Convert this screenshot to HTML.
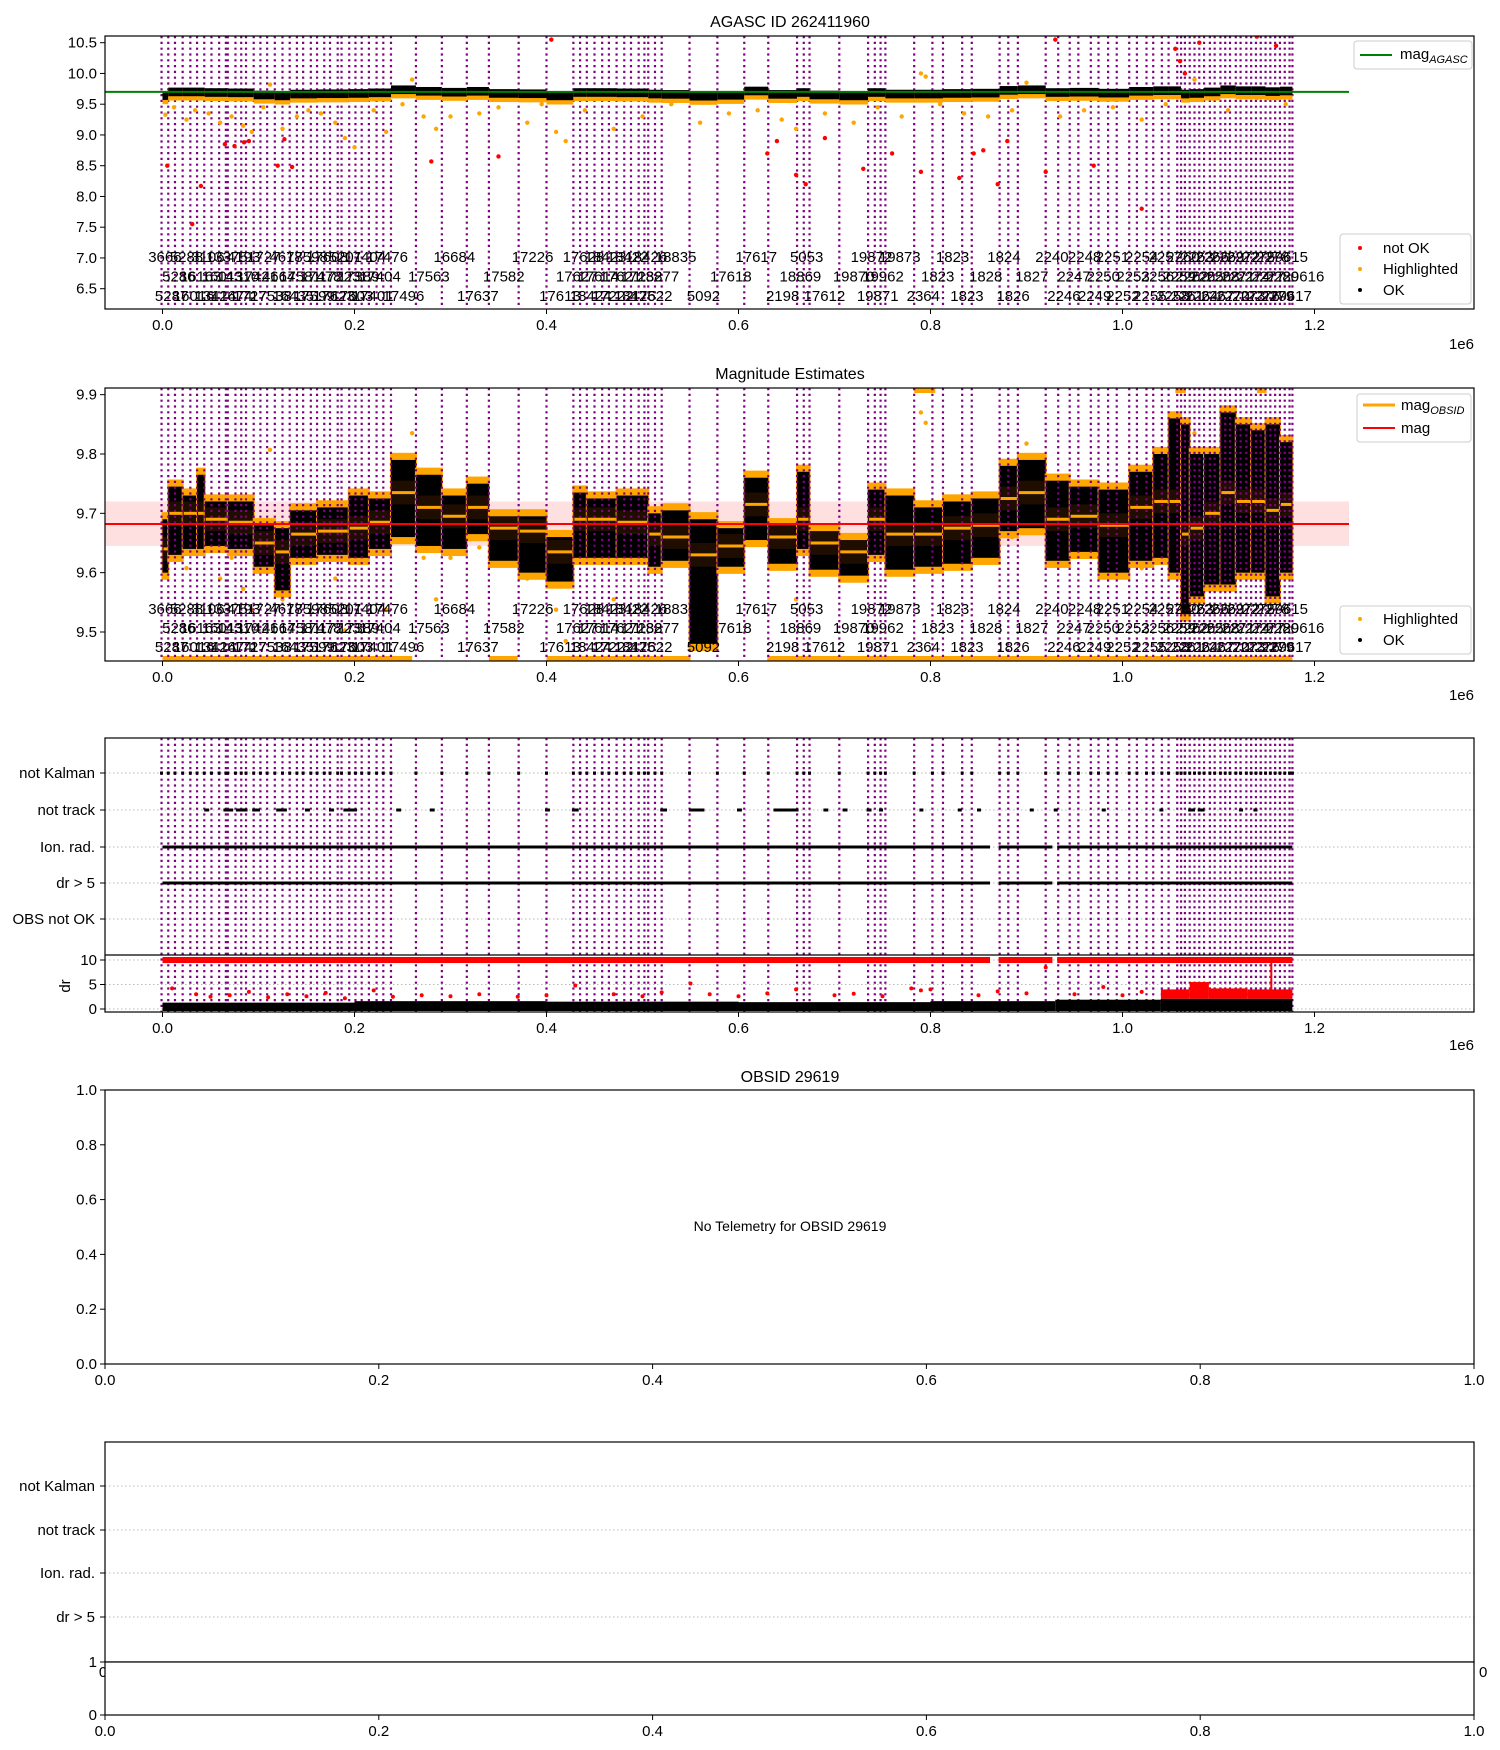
<!DOCTYPE html>
<html><head><meta charset="utf-8">
<style>
html,body{margin:0;padding:0;background:#fff;}
svg{display:block;font-family:"Liberation Sans","DejaVu Sans",sans-serif;}
</style></head>
<body>
<svg id="fig" width="1500" height="1750" viewBox="0 0 1500 1750" xmlns="http://www.w3.org/2000/svg">
<rect width="1500" height="1750" fill="#fff"/>
<g id="p1"></g>
<g id="p2"></g>
<g id="p3"></g>
<g id="p4"></g>
<g id="p5"></g>
</svg>
<script>
// ---- data (x in units of 1e6) ----
const obsBounds = [-0.001,0.006,0.013,0.021,0.029,0.036,0.0435,0.051,0.059,0.066,0.068,0.076,0.082,0.087,0.095,0.102,0.109,0.117,0.125,0.1325,0.140,0.1465,0.1545,0.161,0.1685,0.1745,0.1825,0.1865,0.1945,0.201,0.2075,0.215,0.223,0.230,0.238,0.264,0.291,0.317,0.340,0.371,0.400,0.428,0.435,0.442,0.450,0.458,0.465,0.473,0.481,0.488,0.496,0.502,0.506,0.513,0.520,0.549,0.578,0.606,0.631,0.661,0.668,0.674,0.705,0.735,0.742,0.748,0.753,0.783,0.802,0.813,0.833,0.843,0.872,0.881,0.891,0.920,0.933,0.945,0.954,0.967,0.975,0.985,0.994,1.007,1.015,1.025,1.032,1.041,1.048,1.057,1.061,1.065,1.070,1.075,1.080,1.085,1.091,1.096,1.102,1.107,1.112,1.118,1.123,1.129,1.134,1.139,1.144,1.149,1.154,1.159,1.164,1.169,1.174,1.177];
const obsLabels = ["3666","5287","5286","5288","16016","16163","3106","13414","16013","13375","12674","14310","4193","1727","17421","1727","17538","4664","4678","16435","17581","17598","17599","17478","17608","17623","17223","5201","17603","17389","17404","17401","17404","17476","17496","17563","16684","17637","17582","17226","17613","17627","17628","18424","17614","18423","17222","17621","18422","18425","17232","18426","17622","18877","18835","5092","17618","17617","2198","18869","5053","17612","19870","19872","19871","19962","19873","2364","1823","1823","1823","1828","1824","1826","1827","2240","2246","2247","2248","2249","2250","2251","2252","2253","2254","2255","2256","2257","2258","2259","2260","2261","2262","2263","2264","2265","2266","2267","2268","2269","2270","2271","2272","2273","2274","2275","2276","2277","2278","2279","2280","29615","29617","29616"];
const segStart = [0,0.006,0.021,0.036,0.044,0.068,0.095,0.117,0.133,0.161,0.194,0.215,0.238,0.264,0.291,0.317,0.340,0.371,0.400,0.428,0.442,0.473,0.506,0.520,0.549,0.578,0.606,0.631,0.661,0.674,0.705,0.735,0.753,0.783,0.813,0.843,0.872,0.891,0.920,0.945,0.975,1.007,1.032,1.048,1.061,1.070,1.085,1.102,1.118,1.134,1.149,1.164];
const segEnd = [0.006,0.021,0.036,0.044,0.068,0.095,0.117,0.133,0.161,0.194,0.215,0.238,0.264,0.291,0.317,0.340,0.371,0.400,0.428,0.442,0.473,0.506,0.520,0.549,0.578,0.606,0.631,0.661,0.674,0.705,0.735,0.753,0.783,0.813,0.843,0.872,0.891,0.920,0.945,0.975,1.007,1.032,1.048,1.061,1.070,1.085,1.102,1.118,1.134,1.149,1.164,1.177];
const segLo = [9.60,9.63,9.64,9.64,9.645,9.64,9.61,9.57,9.625,9.63,9.625,9.64,9.66,9.645,9.64,9.665,9.62,9.60,9.585,9.625,9.625,9.625,9.61,9.62,9.48,9.61,9.655,9.615,9.64,9.605,9.595,9.63,9.605,9.61,9.615,9.625,9.67,9.675,9.62,9.635,9.60,9.62,9.625,9.60,9.53,9.56,9.58,9.58,9.60,9.60,9.56,9.60];
const segHi = [9.69,9.745,9.73,9.765,9.72,9.72,9.68,9.675,9.705,9.71,9.73,9.725,9.79,9.765,9.73,9.75,9.695,9.695,9.66,9.735,9.725,9.73,9.70,9.705,9.69,9.675,9.76,9.68,9.77,9.67,9.655,9.74,9.73,9.71,9.72,9.725,9.78,9.79,9.755,9.745,9.74,9.77,9.80,9.86,9.85,9.80,9.80,9.87,9.85,9.84,9.85,9.82];
const segMed = [9.64,9.70,9.70,9.70,9.69,9.685,9.65,9.635,9.665,9.67,9.675,9.685,9.735,9.71,9.695,9.71,9.675,9.67,9.635,9.69,9.69,9.685,9.665,9.66,9.63,9.645,9.715,9.66,9.69,9.65,9.635,9.69,9.665,9.665,9.675,9.68,9.725,9.735,9.69,9.695,9.68,9.71,9.72,9.72,9.665,9.675,9.70,9.735,9.72,9.72,9.705,9.715];
const outX = [0.003,0.012,0.025,0.034,0.048,0.06,0.072,0.084,0.093,0.105,0.112,0.125,0.14,0.152,0.165,0.18,0.19,0.2,0.22,0.233,0.25,0.26,0.272,0.285,0.3,0.33,0.35,0.38,0.395,0.41,0.42,0.44,0.47,0.5,0.53,0.56,0.59,0.62,0.645,0.66,0.69,0.72,0.745,0.77,0.79,0.795,0.81,0.835,0.86,0.885,0.9,0.935,0.96,0.99,1.02,1.045,1.075,1.11,1.14,1.17];
const outY = [9.33,9.45,9.25,9.4,9.35,9.2,9.3,9.15,9.05,9.45,9.82,9.1,9.3,9.4,9.35,9.2,8.95,8.8,9.4,9.05,9.5,9.9,9.3,9.1,9.3,9.35,9.45,9.2,9.5,9.05,8.9,9.4,9.1,9.3,9.5,9.2,9.35,9.4,9.25,9.1,9.35,9.2,9.45,9.3,10.0,9.95,9.5,9.35,9.3,9.4,9.85,9.3,9.4,9.45,9.25,9.5,9.9,9.4,9.6,9.5];
const badX = [0.005,0.031,0.04,0.065,0.075,0.085,0.09,0.12,0.127,0.135,0.28,0.35,0.405,0.63,0.64,0.66,0.67,0.69,0.73,0.76,0.79,0.83,0.845,0.855,0.87,0.88,0.92,0.93,0.97,1.02,1.055,1.06,1.065,1.08,1.14,1.16];
const badY = [8.5,7.55,8.17,8.85,8.82,8.88,8.9,8.5,8.93,8.48,8.57,8.65,10.55,8.7,8.9,8.35,8.2,8.95,8.45,8.7,8.4,8.3,8.7,8.75,8.2,8.9,8.4,10.55,8.5,7.8,10.4,10.2,10.0,10.5,10.6,10.45];
const clipLowStart = [0.0,0.34,0.40,0.63];
const clipLowEnd = [0.26,0.37,0.55,1.177];
const clipHighStart = [0.783,1.055,1.14];
const clipHighEnd = [0.805,1.066,1.15];
const noTrackStart = [0.045,0.065,0.078,0.095,0.12,0.15,0.175,0.19,0.245,0.28,0.4,0.428,0.52,0.55,0.6,0.638,0.66,0.69,0.71,0.735,0.748,0.79,0.83,0.85,0.905,0.93,0.98,1.04,1.07,1.08,1.123,1.138];
const noTrackEnd = [0.047,0.072,0.087,0.1,0.128,0.152,0.177,0.201,0.247,0.282,0.402,0.432,0.524,0.563,0.602,0.66,0.661,0.692,0.712,0.737,0.749,0.791,0.831,0.851,0.906,0.931,0.981,1.041,1.074,1.084,1.124,1.139];
const flagRunStart = [0.0,0.871,0.932];
const flagRunEnd = [0.862,0.927,1.177];
const drTopStart = [0.0,0.2,0.4,0.6,0.8,0.93,1.04];
const drTopEnd = [0.2,0.4,0.6,0.8,0.93,1.04,1.177];
const drTopVal = [1.3,1.6,1.5,1.4,1.6,1.9,2.1];
const drRedX = [0.01,0.035,0.05,0.07,0.09,0.11,0.13,0.15,0.17,0.19,0.22,0.24,0.27,0.3,0.33,0.37,0.4,0.43,0.47,0.5,0.52,0.55,0.57,0.6,0.63,0.66,0.7,0.72,0.75,0.78,0.79,0.8,0.85,0.87,0.9,0.92,0.95,0.98,1.0,1.02];
const drRedY = [4.2,3.0,2.5,2.8,3.5,2.4,3.0,2.6,3.3,2.2,3.8,2.5,2.8,2.6,3.0,2.5,2.8,4.8,3.0,2.6,3.4,5.2,3.0,2.6,3.2,4.0,2.8,3.1,2.6,4.2,3.8,4.0,2.8,3.6,3.2,8.5,3.0,4.5,2.8,3.5];
const drDenseStart = [1.04,1.07,1.09,1.13];
const drDenseEnd = [1.07,1.09,1.13,1.177];
const drDenseVal = [4.0,5.5,4.2,4.0];

// ---- scales ----
const X0 = 162.5, XS = 960, AXL = 105, AXR = 1474;
const xv = v => X0 + v*XS;
const y1 = m => 42.7 + (10.5-m)*61.5;
const y2 = m => 454 + (9.8-m)*593.3;
const yd = d => 1009 - d*4.9;
const NS = "http://www.w3.org/2000/svg";
function mk(parent, tag, attrs, text){
  const el = document.createElementNS(NS, tag);
  for (const k in attrs) el.setAttribute(k, attrs[k]);
  if (text !== undefined) el.textContent = text;
  parent.appendChild(el);
  return el;
}
function clip(id, x, y, w, h){
  let defs = document.getElementById('defs');
  if(!defs){ defs = mk(document.getElementById('fig'),'defs',{id:'defs'}); }
  const c = mk(defs,'clipPath',{id:id});
  mk(c,'rect',{x:x,y:y,width:w,height:h});
}
function vlines(g, top, bot){
  obsBounds.forEach(b=>{
    const l = mk(g,'line',{x1:xv(b),x2:xv(b),y1:top,y2:bot,stroke:'#800080','stroke-width':2.2,'stroke-dasharray':'2.2,3.6'});
    
    
  });
}
function xTicks(g, yb, labels, fn, pre){
  labels.forEach(v=>{
    mk(g,'line',{x1:fn(v),x2:fn(v),y1:yb,y2:yb+5,stroke:'#000','stroke-width':1});
    const t = mk(g,'text',{x:fn(v),y:yb+21,'font-size':15,'text-anchor':'middle'},v.toFixed(1));
    
    
  });
}
function yTicks(g, vals, fn, fmt, pre){
  vals.forEach(v=>{
    mk(g,'line',{x1:AXL-5,x2:AXL,y1:fn(v),y2:fn(v),stroke:'#000','stroke-width':1});
    const t = mk(g,'text',{x:AXL-8,y:fn(v)+5,'font-size':15,'text-anchor':'end'},fmt(v));
    
    
  });
}
function obsText(g, rowsY){
  const order=[0,2,1];
  for(let i=0;i<obsBounds.length;i++){
    const a = obsBounds[i], b = i+1<obsBounds.length ? obsBounds[i+1] : 1.2;
    const mid = (a+b)/2;
    const t = mk(g,'text',{x:xv(mid),y:rowsY[order[i%3]]+5,'font-size':15,'text-anchor':'middle'},obsLabels[i%obsLabels.length]);
    
    
  }
}
const tickVals = [0,0.2,0.4,0.6,0.8,1.0,1.2];

// ================= Panel 1 =================
(function(){
  const g = document.getElementById('p1');
  const T=36, B=309;
  clip('c1',AXL,T,AXR-AXL,B-T);
  const cg = mk(g,'g',{'clip-path':'url(#c1)'});
  vlines(cg,T,B);
  outX.forEach((x,i)=>{ const c=mk(cg,'circle',{cx:xv(x),cy:y1(outY[i]),r:2.2,fill:'orange'});
      });
  segStart.forEach((s,i)=>{
    const w = xv(segEnd[i])-xv(s);
    mk(cg,'rect',{x:xv(s),y:y1(segMed[i]+0.06),width:w,height:y1(segMed[i]-0.14)-y1(segMed[i]+0.06),fill:'orange'});
    const r = mk(cg,'rect',{x:xv(s),y:y1(segMed[i]+0.07),width:w,height:y1(segMed[i]-0.07)-y1(segMed[i]+0.07),fill:'#000'});
     
  });
  badX.forEach((x,i)=>{ const c=mk(cg,'circle',{cx:xv(x),cy:y1(badY[i]),r:2.2,fill:'red'});
      });
  const gl = mk(cg,'line',{x1:AXL,x2:xv(1.236),y1:y1(9.70),y2:y1(9.70),stroke:'green','stroke-width':2});
   
  obsText(g,[257,276.5,296]);
  mk(g,'rect',{x:AXL,y:T,width:AXR-AXL,height:B-T,fill:'none',stroke:'#000','stroke-width':1.2});
  xTicks(g,B,tickVals,xv,'p1');
  yTicks(g,[6.5,7,7.5,8,8.5,9,9.5,10,10.5],y1,v=>v.toFixed(1),'p1');
  const t=mk(g,'text',{x:790,y:27,'font-size':16,'text-anchor':'middle'},'AGASC ID 262411960');
   
  mk(g,'text',{x:1474,y:349,'font-size':15,'text-anchor':'end'},'1e6');
  const lg = mk(g,'g',{});
   
  mk(lg,'rect',{x:1354,y:41,width:118,height:28,rx:3,fill:'#fff',stroke:'#ccc'});
  mk(lg,'line',{x1:1360,x2:1392,y1:55,y2:55,stroke:'green','stroke-width':2});
  const tx = mk(lg,'text',{x:1400,y:59,'font-size':15},'mag');
  mk(tx,'tspan',{'font-size':11,'font-style':'italic',dy:4},'AGASC');
  const lb = mk(g,'g',{});
   
  mk(lb,'rect',{x:1340,y:234,width:131,height:70,rx:3,fill:'#fff',stroke:'#ccc'});
  [['not OK','red',248],['Highlighted','orange',269],['OK','#000',290]].forEach(e=>{
    mk(lb,'circle',{cx:1360,cy:e[2],r:2,fill:e[1]});
    mk(lb,'text',{x:1383,y:e[2]+5,'font-size':15},e[0]);
  });
})();

// ================= Panel 2 =================
(function(){
  const g = document.getElementById('p2');
  const T=388, B=661;
  clip('c2',AXL,T,AXR-AXL,B-T);
  const cg = mk(g,'g',{'clip-path':'url(#c2)'});
  const band = mk(cg,'rect',{x:AXL,y:y2(9.72),width:xv(1.236)-AXL,height:y2(9.645)-y2(9.72),fill:'rgba(255,0,0,0.12)'});
   
  outX.forEach((x,i)=>{ const c=mk(cg,'circle',{cx:xv(x),cy:y2(9.45+ (outY[i]-8.8)*0.35),r:2.2,fill:'orange'});
      });
  clipLowStart.forEach((s,i)=>{ mk(cg,'rect',{x:xv(s),y:B-5,width:xv(clipLowEnd[i])-xv(s),height:5,fill:'orange'}); });
  clipHighStart.forEach((s,i)=>{ mk(cg,'rect',{x:xv(s),y:T,width:xv(clipHighEnd[i])-xv(s),height:5,fill:'orange'}); });
  segStart.forEach((s,i)=>{
    const w = xv(segEnd[i])-xv(s);
    mk(cg,'rect',{x:xv(s)-1,y:y2(segHi[i]+0.012),width:w+2,height:y2(segLo[i]-0.012)-y2(segHi[i]+0.012),fill:'orange'});
    const r = mk(cg,'rect',{x:xv(s),y:y2(segHi[i]),width:w,height:y2(segLo[i])-y2(segHi[i]),fill:'#000'});
     
    mk(cg,'rect',{x:xv(s),y:y2(segMed[i]+0.02),width:w,height:y2(segMed[i]-0.02)-y2(segMed[i]+0.02),fill:'rgba(90,40,0,0.35)'});
  });
  vlines(cg,T,B);
  segStart.forEach((s,i)=>{
    const l = mk(cg,'line',{x1:xv(s)+1,x2:xv(segEnd[i])-1,y1:y2(segMed[i]),y2:y2(segMed[i]),stroke:'orange','stroke-width':3});
     
  });
  const rl = mk(cg,'line',{x1:AXL,x2:xv(1.236),y1:y2(9.682),y2:y2(9.682),stroke:'red','stroke-width':2});
   
  obsText(g,[609,628,647]);
  mk(g,'rect',{x:AXL,y:T,width:AXR-AXL,height:B-T,fill:'none',stroke:'#000','stroke-width':1.2});
  xTicks(g,B,tickVals,xv,'p2');
  yTicks(g,[9.5,9.6,9.7,9.8,9.9],y2,v=>v.toFixed(1),'p2');
  const t=mk(g,'text',{x:790,y:379,'font-size':16,'text-anchor':'middle'},'Magnitude Estimates');
   
  mk(g,'text',{x:1474,y:700,'font-size':15,'text-anchor':'end'},'1e6');
  const lg = mk(g,'g',{});
   
  mk(lg,'rect',{x:1357,y:394,width:114,height:48,rx:3,fill:'#fff',stroke:'#ccc'});
  mk(lg,'line',{x1:1363,x2:1395,y1:405,y2:405,stroke:'orange','stroke-width':3});
  const tx = mk(lg,'text',{x:1401,y:410,'font-size':15},'mag');
  mk(tx,'tspan',{'font-size':11,'font-style':'italic',dy:4},'OBSID');
  mk(lg,'line',{x1:1363,x2:1395,y1:428,y2:428,stroke:'red','stroke-width':2});
  mk(lg,'text',{x:1401,y:433,'font-size':15},'mag');
  const lb = mk(g,'g',{});
   
  mk(lb,'rect',{x:1340,y:606,width:131,height:48,rx:3,fill:'#fff',stroke:'#ccc'});
  mk(lb,'circle',{cx:1360,cy:619,r:2,fill:'orange'});
  mk(lb,'text',{x:1383,y:624,'font-size':15},'Highlighted');
  mk(lb,'circle',{cx:1360,cy:640,r:2,fill:'#000'});
  mk(lb,'text',{x:1383,y:645,'font-size':15},'OK');
})();

// ================= Panel 3 =================
const flagNames = ['not Kalman','not track','Ion. rad.','dr > 5','OBS not OK'];
const flagRowsY = [773,810,847,883,919];
(function(){
  const g = document.getElementById('p3');
  const T=738, S=955, B=1012;
  clip('c3',AXL,T,AXR-AXL,B-T);
  const cg = mk(g,'g',{'clip-path':'url(#c3)'});
  flagRowsY.forEach(y=>mk(cg,'line',{x1:AXL,x2:AXR,y1:y,y2:y,stroke:'#bbb','stroke-width':1,'stroke-dasharray':'1.5,2.5'}));
  [0,5,10].forEach(d=>mk(cg,'line',{x1:AXL,x2:AXR,y1:yd(d),y2:yd(d),stroke:'#bbb','stroke-width':1,'stroke-dasharray':'1.5,2.5'}));
  vlines(cg,T,B);
  obsBounds.forEach(b=>{ const r=mk(cg,'rect',{x:xv(b)-1.5,y:flagRowsY[0]-1.5,width:3,height:3,fill:'#000'});
      });
  noTrackStart.forEach((s,i)=>{ const r=mk(cg,'rect',{x:xv(s)-1.5,y:flagRowsY[1]-1.5,width:xv(noTrackEnd[i])-xv(s)+3,height:3,fill:'#000'});
      });
  flagRunStart.forEach((s,i)=>{
    [2,3].forEach(k=>{ const r=mk(cg,'rect',{x:xv(s),y:flagRowsY[k]-1.5,width:xv(flagRunEnd[i])-xv(s),height:3,fill:'#000'});
        });
    const rr = mk(cg,'rect',{x:xv(s),y:yd(10)-3,width:xv(flagRunEnd[i])-xv(s),height:6,fill:'red'});
     
  });
  drTopStart.forEach((s,i)=>{ const r=mk(cg,'rect',{x:xv(s),y:yd(drTopVal[i]),width:xv(drTopEnd[i])-xv(s),height:yd(0)-yd(drTopVal[i])+2,fill:'#000'});
      });
  drDenseStart.forEach((s,i)=>{ const r=mk(cg,'rect',{x:xv(s),y:yd(drDenseVal[i]),width:xv(drDenseEnd[i])-xv(s),height:yd(drTopVal[6])-yd(drDenseVal[i]),fill:'red'});
      });
  drRedX.forEach((x,i)=>{ const c=mk(cg,'circle',{cx:xv(x),cy:yd(drRedY[i]),r:2,fill:'red'});
      });
  mk(cg,'line',{x1:xv(1.155),x2:xv(1.155),y1:yd(10),y2:yd(3),stroke:'red','stroke-width':2});
  mk(g,'line',{x1:AXL,x2:AXR,y1:S,y2:S,stroke:'#000','stroke-width':1.2});
  mk(g,'rect',{x:AXL,y:T,width:AXR-AXL,height:B-T,fill:'none',stroke:'#000','stroke-width':1.2});
  flagNames.forEach((n,i)=>{ mk(g,'line',{x1:AXL-5,x2:AXL,y1:flagRowsY[i],y2:flagRowsY[i],stroke:'#000'});
    const t=mk(g,'text',{x:AXL-10,y:flagRowsY[i]+5,'font-size':15,'text-anchor':'end'},n);
      });
  [0,5,10].forEach(d=>{ mk(g,'line',{x1:AXL-5,x2:AXL,y1:yd(d),y2:yd(d),stroke:'#000'});
    mk(g,'text',{x:AXL-8,y:yd(d)+5,'font-size':15,'text-anchor':'end'},String(d)); });
  const yt = mk(g,'text',{x:70,y:986,'font-size':15,'text-anchor':'middle',transform:'rotate(-90 70 986)'},'dr');
   
  xTicks(g,B,tickVals,xv,'p3');
  mk(g,'text',{x:1474,y:1050,'font-size':15,'text-anchor':'end'},'1e6');
})();

// ================= Panel 4 =================
const ux = v => AXL + v*(AXR-AXL);
(function(){
  const g = document.getElementById('p4');
  const T=1090, B=1364;
  const uy = v => B - v*(B-T);
  mk(g,'rect',{x:AXL,y:T,width:AXR-AXL,height:B-T,fill:'none',stroke:'#000','stroke-width':1.2});
  const u=[0,0.2,0.4,0.6,0.8,1.0];
  xTicks(g,B,u,ux,'p4');
  yTicks(g,u,uy,v=>v.toFixed(1),'p4');
  const t=mk(g,'text',{x:790,y:1082,'font-size':16,'text-anchor':'middle'},'OBSID 29619');
   
  const n=mk(g,'text',{x:790,y:1231,'font-size':14,'text-anchor':'middle'},'No Telemetry for OBSID 29619');
   
})();

// ================= Panel 5 =================
(function(){
  const g = document.getElementById('p5');
  const T=1442, S=1662, B=1715;
  const rows=[1486,1530,1573,1617];
  rows.forEach(y=>mk(g,'line',{x1:AXL,x2:AXR,y1:y,y2:y,stroke:'#bbb','stroke-width':1,'stroke-dasharray':'1.5,2.5'}));
  mk(g,'rect',{x:AXL,y:T,width:AXR-AXL,height:S-T,fill:'none',stroke:'#000','stroke-width':1.2});
  ['not Kalman','not track','Ion. rad.','dr > 5'].forEach((n,i)=>{
    mk(g,'line',{x1:AXL-5,x2:AXL,y1:rows[i],y2:rows[i],stroke:'#000'});
    const t=mk(g,'text',{x:AXL-10,y:rows[i]+5,'font-size':15,'text-anchor':'end'},n);
     
  });
  mk(g,'text',{x:AXL-2,y:1677,'font-size':15,'text-anchor':'middle'},'0');
  mk(g,'text',{x:AXR+5,y:1677,'font-size':15,'text-anchor':'start'},'0');
  mk(g,'rect',{x:AXL,y:S,width:AXR-AXL,height:B-S,fill:'#fff',stroke:'#000','stroke-width':1.2});
  mk(g,'line',{x1:AXL-5,x2:AXL,y1:S,y2:S,stroke:'#000'});
  mk(g,'text',{x:AXL-8,y:S+5,'font-size':15,'text-anchor':'end'},'1');
  mk(g,'line',{x1:AXL-5,x2:AXL,y1:B,y2:B,stroke:'#000'});
  mk(g,'text',{x:AXL-8,y:B+5,'font-size':15,'text-anchor':'end'},'0');
  xTicks(g,B,[0,0.2,0.4,0.6,0.8,1.0],ux,'p5');
})();
</script>
</body></html>
